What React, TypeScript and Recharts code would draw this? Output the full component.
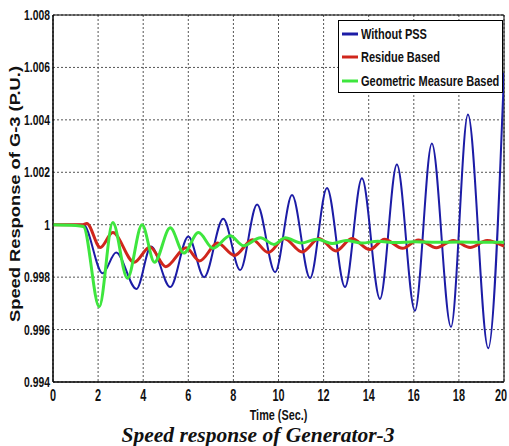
import { LineChart, Line, XAxis, YAxis, CartesianGrid, Legend, ReferenceArea } from "recharts";

const X_TICKS = [0, 2, 4, 6, 8, 10, 12, 14, 16, 18, 20];
const Y_TICKS = [0.994, 0.996, 0.998, 1, 1.002, 1.004, 1.006, 1.008];

// turning points of each response (time in s, speed in p.u.)
const noPssTime = [0, 1.35, 2.2, 2.8, 3.7, 4.35, 5.2, 6.0, 6.7, 7.55, 8.3, 9.05, 9.85, 10.6, 11.4, 12.15, 12.95, 13.7, 14.5, 15.25, 16.05, 16.8, 17.65, 18.4, 19.3, 20];
const noPssSpeed = [1.0, 1.0, 0.99815, 0.99894, 0.99755, 0.99917, 0.99762, 0.99955, 0.998, 1.00023, 0.99827, 1.00077, 0.99819, 1.00113, 0.99796, 1.0014, 0.99762, 1.00177, 0.99717, 1.0023, 0.99672, 1.0031, 0.9961, 1.0042, 0.99529, 1.0058];

const residueTime = [0, 1.3, 1.5, 2.1, 2.65, 3.6, 4.3, 5.0, 5.9, 6.5, 7.3, 8.05, 8.85, 9.55, 10.25, 11.05, 11.8, 12.55, 13.25, 14.05, 14.7, 15.5, 16.2, 17.0, 17.75, 18.5, 19.25, 20];
const residueSpeed = [1.0, 1.0, 1.00005, 0.99913, 0.9997, 0.99857, 0.99915, 0.9984, 0.99912, 0.99862, 0.9993, 0.99883, 0.99943, 0.99894, 0.99947, 0.99896, 0.99947, 0.999, 0.99947, 0.99905, 0.99945, 0.9991, 0.99942, 0.99912, 0.9994, 0.99913, 0.9994, 0.99918];

const geometricTime = [0, 1.0, 1.35, 2.05, 2.65, 3.3, 3.95, 4.5, 5.2, 5.8, 6.45, 7.1, 7.85, 8.45, 9.2, 9.8, 10.3, 11.0, 11.7, 12.4, 13.0, 13.7, 14.4, 15.2, 16.0, 17.0, 18.0, 19.0, 20];
const geometricSpeed = [1.0, 0.99997, 0.99993, 0.99687, 1.00008, 0.99796, 1.0, 0.99857, 0.99988, 0.99892, 0.9997, 0.9991, 0.99958, 0.9992, 0.9995, 0.99925, 0.9995, 0.9993, 0.99945, 0.99928, 0.9994, 0.9993, 0.99937, 0.99932, 0.99935, 0.99933, 0.99934, 0.99933, 0.99933];

// no narrow font installed, so squeeze Liberation Sans bold horizontally
const SANS = '"Liberation Sans", Arial, sans-serif';

const toPoints = (t: number[], v: number[]) => t.map((x, i) => ({ t: x, v: v[i] }));

const SERIES = [
    { name: "Without PSS", color: "#1c1ca6", width: 2, data: toPoints(noPssTime, noPssSpeed) },
    { name: "Residue Based", color: "#d0261c", width: 3, data: toPoints(residueTime, residueSpeed) },
    { name: "Geometric Measure Based", color: "#3ee63e", width: 3, data: toPoints(geometricTime, geometricSpeed) },
];

function NarrowText({ x, y, anchor, size, squeeze, dy, children }: any) {
    return (
        <text transform={`translate(${x},${y}) scale(${squeeze},1)`} textAnchor={anchor} dy={dy}
            style={{ fontFamily: SANS, fontWeight: "bold", fontSize: size, fill: "#111" }}>
            {children}
        </text>
    );
}

const XTick = ({ x, y, payload }: any) => (
    <NarrowText x={x} y={y} anchor="middle" size={17} squeeze={0.64} dy="0.71em">{payload.value}</NarrowText>
);

const YTick = ({ x, y, payload }: any) => (
    <NarrowText x={x} y={y} anchor="end" size={14} squeeze={0.74} dy="0.36em">
        {Math.abs(payload.value - 1) < 1e-9 ? "1" : payload.value.toFixed(3)}
    </NarrowText>
);

const XLabel = () => (
    <NarrowText x={278.5} y={420} anchor="middle" size={15.5} squeeze={0.7}>Time (Sec.)</NarrowText>
);

function YLabel() {
    const cx = 15, cy = 194;
    return (
        <text x={cx} y={cy} transform={`rotate(-90, ${cx}, ${cy})`} textAnchor="middle" dominantBaseline="central"
            textLength={256} lengthAdjust="spacingAndGlyphs"
            style={{ fontFamily: SANS, fontWeight: "bold", fontSize: 14, fill: "#111" }}>
            Speed Response of G-3 (P.U.)
        </text>
    );
}

function LegendBox() {
    return (
        <div style={{ border: "1px solid #000", background: "#fff", padding: "1px 3px", boxSizing: "border-box", width: 165, height: 73 }}>
            {SERIES.map(s => (
                <div key={s.name} style={{ display: "flex", alignItems: "center", height: 23.5 }}>
                    <svg width={19} height={6} style={{ flex: "none" }}>
                        <line x1={0} y1={3} x2={16} y2={3} stroke={s.color} strokeWidth={3} />
                    </svg>
                    <span style={{ display: "inline-block", whiteSpace: "nowrap", transform: "scaleX(0.71)", transformOrigin: "left center", fontFamily: SANS, fontWeight: "bold", fontSize: 15.5, color: "#111" }}>{s.name}</span>
                </div>
            ))}
        </div>
    );
}

export default function App() {
    return (
        <div style={{ position: "absolute", left: 0, top: 0, width: 509, height: 446, background: "#fff", overflow: "hidden" }}>
            <LineChart width={509} height={446} margin={{ top: 15, right: 5, bottom: 0, left: 0 }}>
                <CartesianGrid stroke="#555" strokeDasharray="2 2" />
                <XAxis type="number" dataKey="t" domain={[0, 20]} ticks={X_TICKS} allowDataOverflow
                    height={64} tickLine={false} tickSize={6} tickMargin={1} axisLine={{ stroke: "#000" }}
                    tick={<XTick />} label={<XLabel />} />
                <YAxis type="number" domain={[0.994, 1.008]} ticks={Y_TICKS} allowDataOverflow
                    width={53} tickLine={false} tickSize={0} tickMargin={3} axisLine={{ stroke: "#000" }}
                    tick={<YTick />} label={<YLabel />} />
                {SERIES.map(s => (
                    <Line key={s.name} data={s.data} dataKey="v" name={s.name} type="monotone" stroke={s.color}
                        strokeWidth={s.width} dot={false} isAnimationActive={false} />
                ))}
                <ReferenceArea x1={0} x2={20} y1={0.994} y2={1.008} fill="none" stroke="#000" strokeWidth={1} ifOverflow="visible" />
                <Legend layout="vertical" align="center" verticalAlign="middle"
                    wrapperStyle={{ top: 20, left: 338, width: 165 }} content={() => <LegendBox />} />
            </LineChart>
            <div style={{ position: "absolute", left: 0, width: 516, top: 424, textAlign: "center", fontFamily: '"Liberation Serif", "Times New Roman", serif', fontWeight: "bold", fontStyle: "italic", fontSize: 21.5, color: "#111", lineHeight: "22px" }}>
                Speed response of Generator-3
            </div>
        </div>
    );
}
